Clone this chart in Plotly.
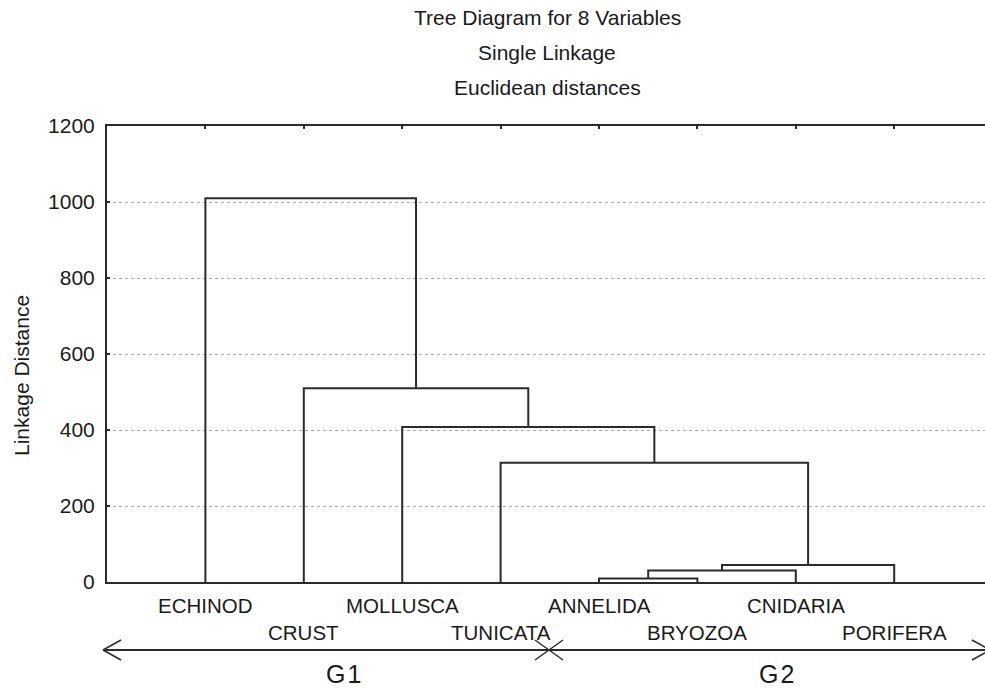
import plotly.graph_objects as go

# ---- data ----
leaves = ["ECHINOD", "CRUST", "MOLLUSCA", "TUNICATA", "ANNELIDA", "BRYOZOA", "CNIDARIA", "PORIFERA"]
merge_left = ["ANNELIDA", "C1", "C2", "TUNICATA", "MOLLUSCA", "CRUST", "ECHINOD"]
merge_right = ["BRYOZOA", "CNIDARIA", "PORIFERA", "C3", "C4", "C5", "C6"]
merge_height = [9, 30, 45, 314, 408, 510, 1010]
y_ticks = [0, 200, 400, 600, 800, 1000, 1200]
title_lines = ["Tree Diagram for 8 Variables", "Single Linkage", "Euclidean distances"]
group_labels = ["G1", "G2"]

# ---- compute dendrogram geometry ----
pos = {name: i + 1 for i, name in enumerate(leaves)}
hgt = {name: 0 for name in leaves}
xs, ys = [], []
for k, (a, b, h) in enumerate(zip(merge_left, merge_right, merge_height)):
    xa, xb = pos[a], pos[b]
    xs += [xa, xa, xb, xb, None]
    ys += [hgt[a], h, h, hgt[b], None]
    cname = "C%d" % (k + 1)
    pos[cname] = (xa + xb) / 2
    hgt[cname] = h

W, H = 985, 688
L, R, T, B = 107, 0, 126, 106
PW, PH = W - L - R, H - T - B
XMAX = PW / 98.4

def px(x):
    return (x - L) / PW

def py(y):
    return (H - B - y) / PH

FONT = "Liberation Sans, Arial, sans-serif"
LINE = "#2b2b2b"
TXT = "#1a1a1a"

fig = go.Figure()
fig.add_trace(go.Scatter(x=xs, y=ys, mode="lines",
                         line=dict(color=LINE, width=2), hoverinfo="skip",
                         showlegend=False))
# invisible trace for top axis ticks
fig.add_trace(go.Scatter(x=[pos[n] for n in leaves], y=[0] * len(leaves),
                         xaxis="x2", mode="markers", marker=dict(opacity=0),
                         showlegend=False, hoverinfo="skip"))

annotations = []
for i, t in enumerate(title_lines):
    annotations.append(dict(text=t, x=px(547), y=py([18, 52, 87][i]), xref="paper",
                            yref="paper", showarrow=False, xanchor="center",
                            yanchor="middle", font=dict(size=21, color=TXT, family=FONT)))
for i, name in enumerate(leaves):
    row_y = 605 if i % 2 == 0 else 632
    annotations.append(dict(text=name, x=pos[name], y=py(row_y), xref="x", yref="paper",
                            showarrow=False, xanchor="center", yanchor="middle",
                            font=dict(size=20.5, color=TXT, family=FONT)))
for g, xc in zip(group_labels, [343, 776]):
    annotations.append(dict(text=g[0] + "\u200a" + g[1:],
                            x=px(xc), y=py(674), xref="paper", yref="paper",
                            showarrow=False, xanchor="center", yanchor="middle",
                            font=dict(size=25, color=TXT, family=FONT)))
annotations.append(dict(text="Linkage Distance", x=px(21), y=py(376), xref="paper",
                        yref="paper", showarrow=False, textangle=-90,
                        xanchor="center", yanchor="middle",
                        font=dict(size=21, color=TXT, family=FONT)))

shapes = []
def seg(x0, y0, x1, y1, w=2):
    shapes.append(dict(type="line", xref="paper", yref="paper",
                       x0=px(x0), y0=py(y0), x1=px(x1), y1=py(y1),
                       line=dict(color=LINE, width=w)))

ay = 650
seg(103, ay, 990, ay, 2)
seg(103, ay, 121, ay - 10, 1.5)
seg(103, ay, 121, ay + 10, 1.5)
seg(990, ay, 972, ay - 10, 1.5)
seg(990, ay, 972, ay + 10, 1.5)
seg(535, ay - 10, 563, ay + 10, 1.5)
seg(535, ay + 10, 563, ay - 10, 1.5)

fig.update_layout(
    width=W, height=H,
    margin=dict(l=L, r=R, t=T, b=B),
    paper_bgcolor="white", plot_bgcolor="white",
    font=dict(family=FONT, size=20, color=TXT),
    xaxis=dict(range=[0, XMAX], showgrid=False, zeroline=False, showticklabels=False,
               showline=True, linecolor=LINE, linewidth=2, mirror=True, ticks=""),
    xaxis2=dict(range=[0, XMAX], overlaying="x", side="top", showgrid=False,
                zeroline=False, showticklabels=False, ticks="inside", ticklen=3,
                tickcolor=LINE, tickwidth=2, tickvals=[pos[n] for n in leaves],
                showline=False),
    yaxis=dict(range=[0, 1200], tickvals=y_ticks, ticktext=[str(v) for v in y_ticks],
               showgrid=True, gridcolor="#a8a8a8", griddash="dot", gridwidth=1,
               zeroline=False, showline=True, linecolor=LINE, linewidth=2,
               ticks="inside", ticklen=3, tickcolor=LINE, tickwidth=2,
               ticklabelstandoff=6, tickfont=dict(size=21, family=FONT, color=TXT)),
    annotations=annotations, shapes=shapes,
)

fig.write_html("out.html", config={"displayModeBar": False},
               post_script="document.body.style.margin='0';document.body.style.overflow='hidden';")
